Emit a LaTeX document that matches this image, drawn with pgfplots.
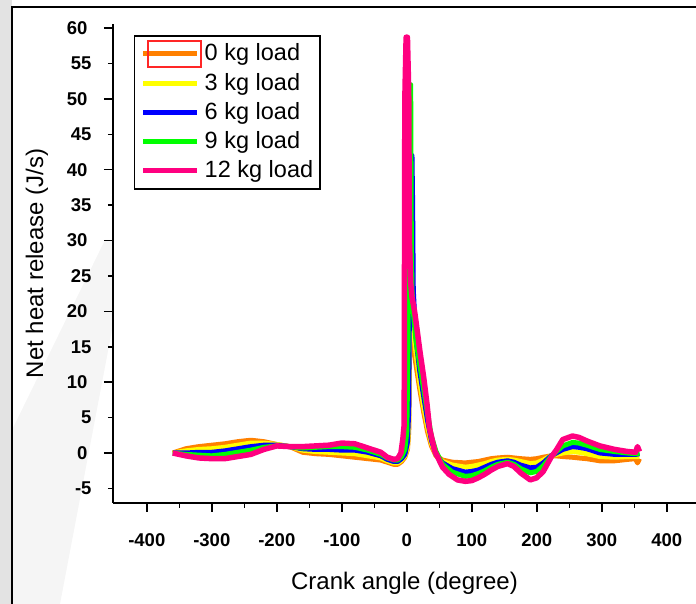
\documentclass[border=0pt]{standalone}
\usepackage{fontspec}
\setmainfont{Liberation Sans}
\usepackage{pgfplots}
\pgfplotsset{compat=1.18}
\definecolor{cO}{RGB}{255,128,0}
\definecolor{cY}{RGB}{255,255,0}
\definecolor{cB}{RGB}{0,0,255}
\definecolor{cG}{RGB}{0,255,0}
\definecolor{cP}{RGB}{255,0,128}
\begin{document}
\begin{tikzpicture}[x=1pt,y=1pt]
\path[use as bounding box] (0,0) rectangle (696,604);
\fill[gray!22] (0,0) rectangle (12,604);
\fill[gray!8] (12,0) -- (12,174) -- (105,364) -- (112,364) -- (112,274) -- (60,0) -- cycle;
\draw[line width=2.5pt] (12,0) -- (12,597) -- (696,597);
\begin{axis}[
  at={(113pt,101pt)}, anchor=south west, scale only axis,
  width=583pt, height=479pt,
  xmin=-452, xmax=445, ymin=-7.06, ymax=60.57,
  axis x line*=bottom, axis y line*=left,
  axis line style={-, line width=1.5pt, black},
  xtick={-400,-300,...,400},
  minor xtick={-350,-250,...,350},
  ytick={0,10,...,60},
  extra y ticks={-5,5,...,55},
  extra y tick style={major tick length=5pt},
  tick style={line width=1.5pt, black},
  major tick length=9pt, minor tick length=5pt,
  tick align=outside,
  /pgf/number format/assume math mode=true,
  ticklabel style={font=\fontsize{18.5}{18.5}\selectfont\bfseries},
  xticklabel style={yshift=-18pt},
  yticklabel style={xshift=-13pt},
  xlabel={Crank angle (degree)},
  ylabel={Net heat release (J/s)},
  label style={font=\fontsize{24}{24}\selectfont},
  xlabel style={at={(axis description cs:0.5,-0.1668)}, anchor=center},
  ylabel style={at={(axis description cs:-0.1303,0.5)}, anchor=center},
  legend style={at={(axis description cs:0.036,0.977)}, anchor=north west,
    draw=black, line width=1.5pt, font=\fontsize{23.5}{23.5}\selectfont,
    inner xsep=6pt, inner ysep=7pt, row sep=7.3pt,
    nodes={inner sep=1pt, text depth=3pt, text height=17pt},
    /tikz/every odd column/.append style={column sep=4pt}},
  legend cell align=left,
  legend image code/.code={\draw[#1, line width=5pt] (0pt,0pt) -- (54pt,0pt);},
  clip=false,
]
\addplot[color=cO, line width=5pt, line join=round] coordinates {
(-360,0) (-340,0.6) (-320,0.9) (-300,1.1) (-280,1.3) (-260,1.6) (-240,1.8) (-220,1.6) (-200,1.2) (-180,0.9) (-160,0.1) (-140,-0.1) (-120,-0.2) (-100,-0.4) (-80,-0.6) (-60,-0.8) (-40,-1.0) (-30,-1.3) (-20,-1.6) (-14,-1.6) (-8,-1.2) (-3,-0.6) (1,0.5) (3,3) (4,12) (5,22) (7,19) (8,16.5) (10,15) (15,12) (20,9) (26,5.8) (32,3.0) (38,1.0) (45,-0.4) (55,-1.0) (70,-1.3) (90,-1.4) (100,-1.3) (110,-1.2) (120,-1.0) (130,-0.8) (140,-0.7) (155,-0.6) (165,-0.7) (175,-0.8) (190,-0.9) (200,-0.8) (210,-0.6) (222,-0.4) (230,-0.4) (240,-0.5) (255,-0.6) (265,-0.7) (277,-0.8) (297,-1.1) (320,-1.1) (340,-0.9) (352,-0.8) (355,-1.4) (358,-0.8)
};
\addlegendentry{0 kg load}
\addplot[color=cY, line width=5pt, line join=round] coordinates {
(-360,0) (-340,0.3) (-320,0.5) (-300,0.6) (-280,0.8) (-260,1.1) (-240,1.4) (-220,1.4) (-200,1.2) (-180,0.9) (-160,0.4) (-140,0.2) (-120,0.1) (-100,0.0) (-80,-0.1) (-60,-0.4) (-40,-0.7) (-30,-1.1) (-20,-1.4) (-14,-1.4) (-8,-1.0) (-3,-0.4) (1,0.8) (3,4) (4,15) (5,23) (7,21) (10,17.5) (15,13.5) (20,10) (26,6.6) (32,3.7) (38,1.4) (45,-0.3) (55,-1.2) (70,-1.7) (90,-2.0) (100,-1.9) (110,-1.7) (120,-1.5) (130,-1.2) (140,-1.0) (155,-0.9) (165,-1.0) (175,-1.2) (190,-1.5) (200,-1.4) (210,-1.0) (222,-0.4) (230,-0.2) (240,0.0) (255,0.2) (265,0.1) (277,-0.1) (297,-0.5) (320,-0.6) (340,-0.5) (352,-0.5) (358,-0.5)
};
\addlegendentry{3 kg load}
\addplot[color=cB, line width=5pt, line join=round] coordinates {
(-360,0) (-340,0) (-320,0.1) (-300,0.1) (-280,0.3) (-260,0.6) (-240,0.9) (-220,1.1) (-200,1.1) (-180,0.9) (-160,0.6) (-140,0.5) (-120,0.5) (-100,0.4) (-80,0.4) (-60,0.1) (-40,-0.4) (-30,-0.9) (-20,-1.2) (-14,-1.2) (-8,-0.8) (-3,-0.2) (1,1.5) (3,6) (4,20) (6,42) (8,42) (9,35) (10,23) (12,19.5) (15,15.5) (20,11.5) (26,8) (32,4.6) (38,1.8) (45,-0.2) (55,-1.4) (70,-2.2) (90,-2.7) (100,-2.6) (110,-2.4) (120,-2.0) (130,-1.6) (140,-1.3) (155,-1.1) (165,-1.3) (175,-1.7) (190,-2.1) (200,-2.0) (210,-1.4) (222,-0.4) (230,0.0) (240,0.5) (255,0.9) (265,0.8) (277,0.6) (297,0.0) (320,-0.2) (340,-0.2) (352,-0.2) (358,-0.1)
};
\addlegendentry{6 kg load}
\addplot[color=cG, line width=5pt, line join=round] coordinates {
(-360,0) (-340,-0.2) (-320,-0.3) (-300,-0.4) (-280,-0.2) (-260,0.1) (-240,0.4) (-220,0.8) (-200,1.0) (-180,0.9) (-160,0.7) (-140,0.8) (-120,0.9) (-100,0.9) (-80,0.8) (-60,0.4) (-40,-0.2) (-30,-0.7) (-20,-1.0) (-14,-1.0) (-8,-0.5) (-3,0.5) (0,3) (2,15) (4,52) (6,52) (7,30) (8,23) (10,20) (14,16) (20,12.5) (26,9) (32,5.5) (38,2.3) (45,0.2) (55,-1.6) (70,-2.7) (90,-3.3) (100,-3.2) (110,-2.9) (120,-2.5) (130,-2.0) (140,-1.6) (155,-1.3) (165,-1.6) (175,-2.2) (190,-2.8) (200,-2.6) (210,-1.8) (222,-0.5) (230,0.2) (240,1.0) (255,1.5) (265,1.4) (277,1.1) (297,0.5) (320,0.2) (340,0.0) (352,-0.1) (358,0.0)
};
\addlegendentry{9 kg load}
\addplot[color=cP, line width=5.5pt, line join=round] coordinates {
(-360,0) (-340,-0.4) (-320,-0.7) (-300,-0.8) (-280,-0.8) (-260,-0.5) (-240,-0.2) (-220,0.5) (-200,1.0) (-180,0.9) (-160,0.9) (-140,1.0) (-120,1.1) (-100,1.4) (-80,1.3) (-60,0.7) (-40,0.1) (-30,-0.6) (-20,-0.9) (-14,-0.8) (-9,0) (-6,2) (-4,4) (-3,50) (-1,58.7) (1,58.7) (3,51) (4,30) (6,24) (8,22) (12,20) (15,18) (20,14.5) (26,10.7) (31,7) (35,3.5) (43,0.3) (55,-2.0) (65,-3.0) (78,-3.8) (90,-4.0) (100,-3.9) (110,-3.5) (120,-3.0) (130,-2.4) (140,-1.9) (155,-1.5) (165,-1.9) (175,-2.8) (190,-3.8) (200,-3.5) (210,-2.6) (222,-0.6) (230,0.4) (240,1.9) (255,2.4) (265,2.2) (277,1.7) (297,1.0) (320,0.5) (340,0.2) (352,0.1) (355,0.9) (358,0.2)
};
\addlegendentry{12 kg load}
\end{axis}
\draw[red!85!white, line width=1.5pt] (148,537) rectangle (201,563);
\end{tikzpicture}
\end{document}
